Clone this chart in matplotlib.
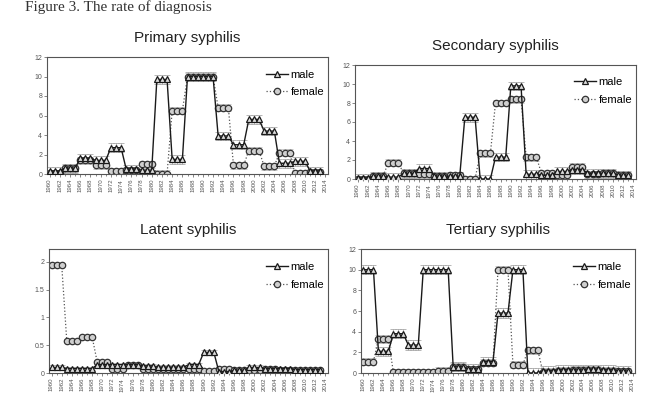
import matplotlib.pyplot as plt
from matplotlib.ticker import FormatStrFormatter, MultipleLocator

plt.rcParams['font.family'] = ['Liberation Sans', 'DejaVu Sans']

years = list(range(1960, 2014))
tick_years = list(range(1960, 2015, 2))

# rates per year (3-year steps)
primary_male = [
    0.3, 0.3, 0.3, 0.6, 0.6, 0.6, 1.6, 1.6, 1.6, 1.4, 1.4, 1.4, 2.7, 2.7, 2.7, 0.5, 0.5, 0.5,
    0.4, 0.4, 0.4, 9.7, 9.7, 9.7, 1.5, 1.5, 1.5, 10, 10, 10, 10, 10, 10, 3.9, 3.9, 3.9,
    3.0, 3.0, 3.0, 5.6, 5.6, 5.6, 4.4, 4.4, 4.4, 1.1, 1.1, 1.1, 1.3, 1.3, 1.3, 0.3, 0.3, 0.3]
primary_female = [
    0.1, 0.1, 0.1, 0.6, 0.6, 0.6, 1.4, 1.4, 1.4, 0.9, 0.9, 0.9, 0.3, 0.3, 0.3, 0.4, 0.4, 0.4,
    1.0, 1.0, 1.0, 0.0, 0.0, 0.0, 6.5, 6.5, 6.5, 10, 10, 10, 10, 10, 10, 6.8, 6.8, 6.8,
    0.9, 0.9, 0.9, 2.4, 2.4, 2.4, 0.8, 0.8, 0.8, 2.2, 2.2, 2.2, 0.1, 0.1, 0.1, 0.2, 0.2, 0.2]

secondary_male = [
    0.1, 0.1, 0.1, 0.3, 0.3, 0.3, 0.2, 0.2, 0.2, 0.6, 0.6, 0.6, 1.1, 1.1, 1.1, 0.3, 0.3, 0.3,
    0.3, 0.3, 0.3, 6.5, 6.5, 6.5, 0.0, 0.0, 0.0, 2.3, 2.3, 2.3, 9.8, 9.8, 9.8, 0.5, 0.5, 0.5,
    0.4, 0.4, 0.4, 0.8, 0.8, 0.8, 1.0, 1.0, 1.0, 0.6, 0.6, 0.6, 0.6, 0.6, 0.6, 0.4, 0.4, 0.4]
secondary_female = [
    0.0, 0.0, 0.0, 0.3, 0.3, 0.3, 1.7, 1.7, 1.7, 0.6, 0.6, 0.6, 0.5, 0.5, 0.5, 0.3, 0.3, 0.3,
    0.4, 0.4, 0.4, 0.0, 0.0, 0.0, 2.7, 2.7, 2.7, 8.0, 8.0, 8.0, 8.4, 8.4, 8.4, 2.3, 2.3, 2.3,
    0.6, 0.6, 0.6, 0.4, 0.4, 0.4, 1.3, 1.3, 1.3, 0.5, 0.5, 0.5, 0.6, 0.6, 0.6, 0.4, 0.4, 0.4]

latent_male = [
    0.1, 0.1, 0.1, 0.08, 0.08, 0.08, 0.08, 0.08, 0.08, 0.15, 0.15, 0.15, 0.15, 0.15, 0.15,
    0.15, 0.15, 0.15, 0.13, 0.13, 0.13, 0.1, 0.1, 0.1, 0.1, 0.1, 0.1, 0.15, 0.15, 0.15,
    0.37, 0.37, 0.37, 0.02, 0.02, 0.02, 0.05, 0.05, 0.05, 0.1, 0.1, 0.1, 0.08, 0.08, 0.08,
    0.08, 0.08, 0.08, 0.06, 0.06, 0.06, 0.06, 0.06, 0.06]
latent_female = [
    1.95, 1.95, 1.95, 0.58, 0.58, 0.58, 0.65, 0.65, 0.65, 0.2, 0.2, 0.2, 0.08, 0.08, 0.08,
    0.15, 0.15, 0.15, 0.07, 0.07, 0.07, 0.08, 0.08, 0.08, 0.07, 0.07, 0.07, 0.08, 0.08, 0.08,
    0.03, 0.03, 0.03, 0.08, 0.08, 0.08, 0.05, 0.05, 0.05, 0.05, 0.05, 0.05, 0.08, 0.08, 0.08,
    0.06, 0.06, 0.06, 0.06, 0.06, 0.06, 0.05, 0.05, 0.05]

tertiary_male = [
    10, 10, 10, 2.1, 2.1, 2.1, 3.8, 3.8, 3.8, 2.7, 2.7, 2.7, 10, 10, 10, 10, 10, 10,
    0.6, 0.6, 0.6, 0.4, 0.4, 0.4, 1.1, 1.1, 1.1, 5.8, 5.8, 5.8, 10, 10, 10, 0.0, 0.0, 0.0,
    0.2, 0.2, 0.2, 0.3, 0.3, 0.3, 0.3, 0.3, 0.3, 0.35, 0.35, 0.35, 0.3, 0.3, 0.3, 0.2, 0.2, 0.2]
tertiary_female = [
    1.1, 1.1, 1.1, 3.3, 3.3, 3.3, 0.05, 0.05, 0.05, 0.05, 0.05, 0.05, 0.05, 0.05, 0.05,
    0.2, 0.2, 0.2, 0.6, 0.6, 0.6, 0.35, 0.35, 0.35, 1.0, 1.0, 1.0, 10, 10, 10, 0.8, 0.8, 0.8,
    2.2, 2.2, 2.2, 0.1, 0.1, 0.1, 0.2, 0.2, 0.2, 0.3, 0.3, 0.3, 0.3, 0.3, 0.3, 0.2, 0.2, 0.2,
    0.15, 0.15, 0.15]

W, H = 651, 400
fig = plt.figure(figsize=(W / 100, H / 100), dpi=100)
fig.patch.set_facecolor('white')

fig.text(25 / W, 1 - 11 / H, 'Figure 3. The rate of diagnosis', family='Liberation Serif',
         fontsize=11, color='#333333', va='baseline', ha='left')

# title, male, female, axes box in pixels (left, top, right, bottom), ymax, step, error
panels = [
    ('Primary syphilis', primary_male, primary_female, (47, 57, 328, 174), 12, 2, 0.45),
    ('Secondary syphilis', secondary_male, secondary_female, (355, 65, 636, 179), 12, 2, 0.45),
    ('Latent syphilis', latent_male, latent_female, (49, 249, 328, 373), 2.23, 0.5, 0.035),
    ('Tertiary syphilis', tertiary_male, tertiary_female, (361, 249, 635, 373), 12, 2, 0.45),
]

for title, male, female, box, ymax, step, err in panels:
    l, t, r, b = box
    ax = fig.add_axes([l / W, 1 - b / H, (r - l) / W, (b - t) / H])

    ax.errorbar(years, male, yerr=err, fmt='none', ecolor='#9a9a9a', elinewidth=0.5,
                capsize=2, capthick=0.5, zorder=1)
    ax.errorbar(years, female, yerr=err * 0.8, fmt='none', ecolor='#b0b0b0', elinewidth=0.5,
                capsize=2, capthick=0.5, zorder=1)
    ax.plot(years, female, linestyle=':', color='#555555', lw=0.9, marker='o', ms=4.6,
            mfc='#cfcfcf', mec='#333333', mew=0.9, label='female', zorder=2)
    ax.plot(years, male, linestyle='-', color='#1a1a1a', lw=1.0, marker='^', ms=4.6,
            mfc='#dddddd', mec='#1a1a1a', mew=0.9, label='male', zorder=3)

    ax.set_xlim(1959.5, 2014.5)
    ax.set_ylim(0, ymax)
    ax.yaxis.set_major_locator(MultipleLocator(step))
    ax.yaxis.set_major_formatter(FormatStrFormatter('%g'))
    ax.set_xticks(tick_years)
    ax.set_xticklabels([str(y) for y in tick_years], rotation=90)
    ax.xaxis.set_minor_locator(MultipleLocator(1))
    ax.tick_params(axis='both', which='major', length=2, width=0.5, color='#555555',
                   labelcolor='#555555', pad=1.5)
    ax.tick_params(axis='x', which='major', labelsize=4.4)
    ax.tick_params(axis='y', which='major', labelsize=5)
    ax.tick_params(axis='x', which='minor', length=1.5, width=0.5, color='#555555')
    for s in ax.spines.values():
        s.set_color('#555555')
        s.set_linewidth(0.8)

    ax.set_title(title, fontsize=11, color='#222222', pad=11)

    h, lab = ax.get_legend_handles_labels()
    ax.legend(h[::-1], lab[::-1], loc='upper right', bbox_to_anchor=(1.01, 0.95),
              frameon=False, fontsize=8, handlelength=2.0, handletextpad=0.2,
              labelspacing=0.7, borderaxespad=0.2)

fig.savefig('out.png', dpi=100)
